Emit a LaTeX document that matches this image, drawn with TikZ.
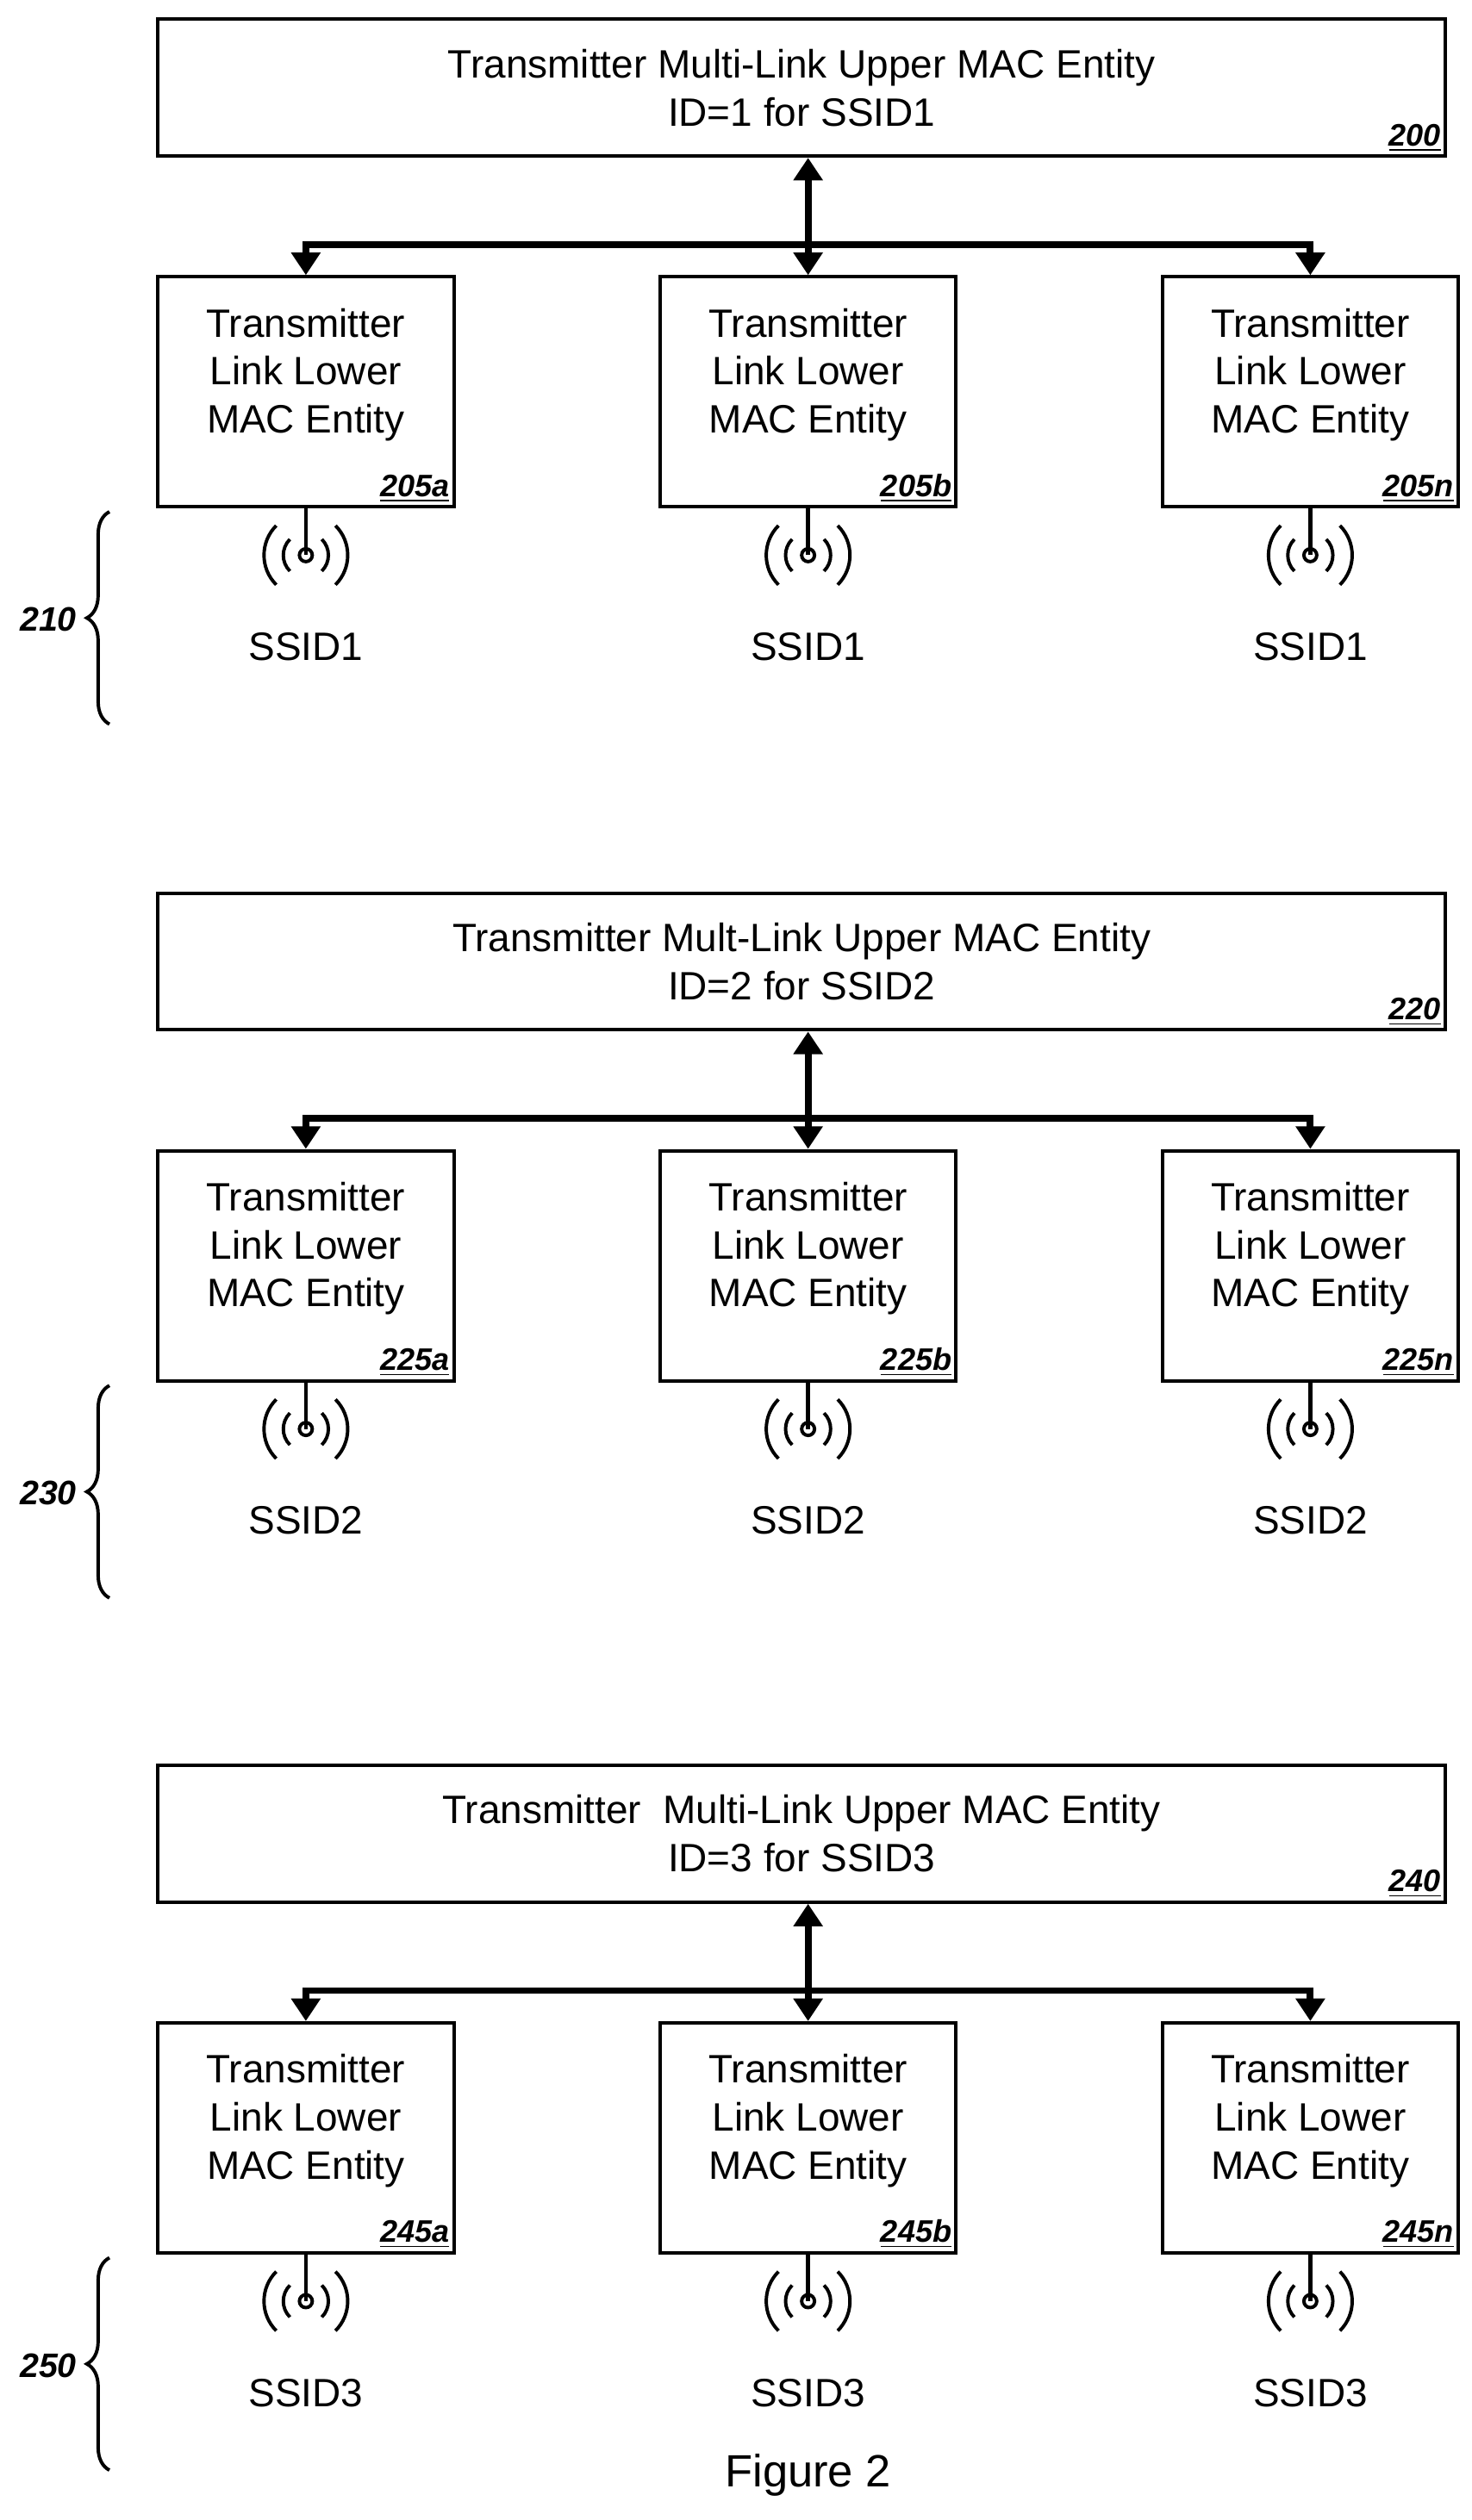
\documentclass[tikz,border=0pt]{standalone}
\usepackage{fontspec}
\setmainfont{Liberation Sans}
\usetikzlibrary{decorations.pathreplacing, arrows.meta}
\newcommand{\refn}[1]{\textbf{\textit{\underline{#1}}}}

\begin{document}
\begin{tikzpicture}[x=0.02cm, y=-0.02cm,
    upper/.style={draw, line width=1.2pt, minimum width=16cm, minimum height=1.7cm, align=center, font=\fontsize{14}{17}\selectfont},
    lower/.style={draw, line width=1.2pt, minimum width=3.68cm, minimum height=2.86cm, align=center, font=\fontsize{14}{17}\selectfont},
    tag/.style={font=\fontsize{11}{12}\selectfont, anchor=south east, inner sep=2pt},
    bus/.style={line width=2.4pt, -{Triangle[length=8pt, width=10pt]}},
    ssid/.style={font=\fontsize{14}{16}\selectfont}]
  \useasboundingbox (0,0) rectangle (914,1566);
  \foreach \off/\up/\low/\br/\uid/\word in {0/200/205/210/1/Multi,543/220/225/230/2/Mult,1085/240/245/250/3/Multi} {
    \begin{scope}[yshift=-\off*0.02cm]
      \node[upper] (U\up) at (498,54.5) {Transmitter\ifnum\uid=3\ \fi\ \word-Link Upper MAC Entity\\ID=\uid\ for SSID\uid};
      \node[tag] at (U\up.south east) {\refn{\up}};
      \coordinate (J\up) at (500,152);
      \foreach \x/\s in {190/a,502/b,814/n} {
        \node[lower] (L\low\s) at (\x,243.5) {Transmitter\\Link Lower\\MAC Entity\\[-2pt]};
        \node[tag] at (L\low\s.south east) {\refn{\low\s}};
        \coordinate (A\low\s) at (\x,345);
        \draw[line width=1.4pt] (L\low\s.south) -- (A\low\s);
        \draw[line width=1.2pt] (A\low\s) circle (4);
        \foreach \r in {14,26} {
          \draw[line width=1.2pt] ([shift={(45:\r*0.02cm)}]A\low\s) arc[start angle=45, end angle=-45, radius=\r*0.02cm];
          \draw[line width=1.2pt] ([shift={(135:\r*0.02cm)}]A\low\s) arc[start angle=135, end angle=225, radius=\r*0.02cm];
        }
        \node[ssid] (S\low\s) at (\x,402) {SSID\uid};
      }
      \draw[bus] (J\up) -| (L\low a.north);
      \draw[bus] (J\up) -| (L\low n.north);
      \draw[bus, {Triangle[length=8pt, width=10pt]}-{Triangle[length=8pt, width=10pt]}] (U\up.south -| L\low b.north) -- (L\low b.north);
      \draw[line width=1.2pt, decorate, decoration={brace, amplitude=8pt}] (68,450) -- (68,318) coordinate[midway] (B\br);
      \node[font=\fontsize{12}{14}\selectfont\bfseries\itshape] at (30,385) {\br};
    \end{scope}
  }
  \node[font=\fontsize{16}{18}\selectfont] (fig) at (502,1538) {Figure 2};
\end{tikzpicture}
\end{document}
